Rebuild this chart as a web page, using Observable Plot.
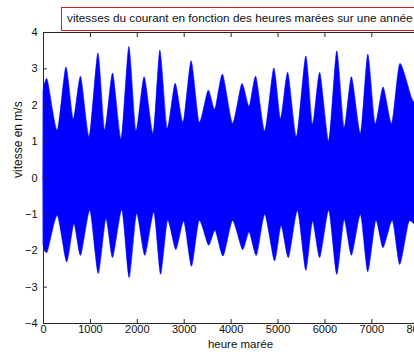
<!DOCTYPE html>
<html><head><meta charset="utf-8">
<script src="https://cdn.jsdelivr.net/npm/d3@7"></script>
<script src="https://cdn.jsdelivr.net/npm/@observablehq/plot@0.6"></script>
<style>
html,body{margin:0;padding:0;background:#fff;overflow:hidden;width:414px;height:354px;}
#wrap{position:relative;width:414px;height:354px;overflow:hidden;}
#chart svg{max-width:none !important;}
#title{position:absolute;left:61px;top:7px;width:360px;height:24px;border:1.5px solid #d02020;background:#fff;font:11.8px "Liberation Sans",Arial,sans-serif;line-height:21px;padding-left:5px;white-space:nowrap;box-sizing:border-box;color:#111;}
</style></head><body>
<div id="wrap"><div id="chart"></div><div id="title"></div></div>
<script>
const titleText = "vitesses du courant en fonction des heures marées sur une année";
const xLabel = "heure marée";
const yLabel = "vitesse en m/s";
const xTicks = [0,1000,2000,3000,4000,5000,6000,7000,8000];
const yTicks = [-4,-3,-2,-1,0,1,2,3,4];

// upper envelope of the current speed (m/s) vs tidal hour
const upperHours = [0,89,303,488,644,801,984,1170,1313,1483,1666,1830,1980,2156,2348,2491,2646,2817,2987,3158,3328,3520,3663,3827,4040,4238,4394,4537,4728,4920,5063,5218,5404,5602,5745,5900,6092,6262,6418,6576,6768,6923,7079,7249,7434,7605,7854,7950];
const upperValues = [2.38,2.70,1.29,3.04,1.61,2.78,1.12,3.42,1.31,2.87,1.06,3.60,1.29,2.77,1.21,3.50,1.36,2.59,1.52,3.21,1.52,2.40,1.88,2.84,1.49,2.58,1.95,2.78,1.27,3.01,1.61,2.89,1.12,3.34,1.47,2.89,1.01,3.48,1.38,2.77,1.21,3.39,1.49,2.49,1.49,3.13,2.20,2.00];

// lower envelope
const lowerHours = [0,89,303,503,658,801,999,1176,1340,1483,1681,1837,1994,2171,2363,2506,2655,2832,3002,3166,3328,3529,3669,3840,4040,4253,4394,4551,4728,4935,5076,5233,5425,5602,5745,5900,6092,6262,6418,6576,6768,6923,7094,7249,7449,7605,7797,7950];
const lowerValues = [-1.86,-2.05,-1.04,-2.32,-1.27,-2.14,-0.90,-2.64,-1.13,-2.20,-0.89,-2.75,-0.99,-2.14,-0.95,-2.66,-1.18,-1.98,-1.20,-2.44,-1.18,-1.86,-1.45,-2.16,-1.18,-1.98,-1.50,-2.14,-1.01,-2.29,-1.32,-2.20,-0.90,-2.55,-1.20,-2.20,-0.90,-2.66,-1.16,-2.14,-1.02,-2.59,-1.18,-1.93,-1.18,-2.39,-1.22,-1.35];

const upper = upperHours.map((h,i)=>({h, v: upperValues[i]}));
const lower = lowerHours.map((h,i)=>({h, v: lowerValues[i]}));

document.getElementById("title").textContent = titleText;

const tickFont = '"Liberation Sans Narrow", "Arial Narrow", "Liberation Sans", Arial, sans-serif';
const labelFont = '"Liberation Sans", Arial, sans-serif';
const blue = "#0000ff";
const axisColor = "#262626";

const chart = Plot.plot({
  width: 447,
  height: 354,
  marginLeft: 43,
  marginRight: 10,
  marginTop: 32,
  marginBottom: 31,
  style: {background: "#fff", color: "#111", fontFamily: labelFont, overflow: "visible", maxWidth: "none"},
  x: {domain: [0, 8400]},
  y: {domain: [-4, 4]},
  marks: [
    Plot.areaY(upper, {x: "h", y1: 0, y2: "v", fill: blue, stroke: blue, strokeWidth: 0.6, curve: "cardinal", tension: 0.35}),
    Plot.areaY(lower, {x: "h", y1: "v", y2: 0, fill: blue, stroke: blue, strokeWidth: 0.6, curve: "cardinal", tension: 0.35}),
    Plot.ruleY([0], {x1: 0, x2: 7950, stroke: blue, strokeWidth: 2}),
    Plot.frame({stroke: axisColor, strokeWidth: 1}),
    Plot.axisX(xTicks, {anchor: "bottom", tickSize: -4, tickPadding: 6, tickFormat: d3.format("d"), label: null, stroke: axisColor, fill: "#111", fontFamily: tickFont, fontSize: 11}),
    Plot.axisX(xTicks, {anchor: "top", tickSize: -4, tickFormat: () => "", label: null, stroke: axisColor}),
    Plot.axisY(yTicks, {anchor: "left", tickSize: -4, tickPadding: 10, tickFormat: d3.format("d"), label: null, stroke: axisColor, fill: "#111", fontFamily: tickFont, fontSize: 11}),
    Plot.text([xLabel], {text: d => d, frameAnchor: "bottom", dy: 24, fontSize: 11.5, fontFamily: labelFont, fill: "#111"}),
    Plot.text([yLabel], {text: d => d, frameAnchor: "left", dx: -25, rotate: -90, fontSize: 12, fontFamily: labelFont, fill: "#111"})
  ]
});
document.getElementById("chart").appendChild(chart);
</script>
</body></html>
